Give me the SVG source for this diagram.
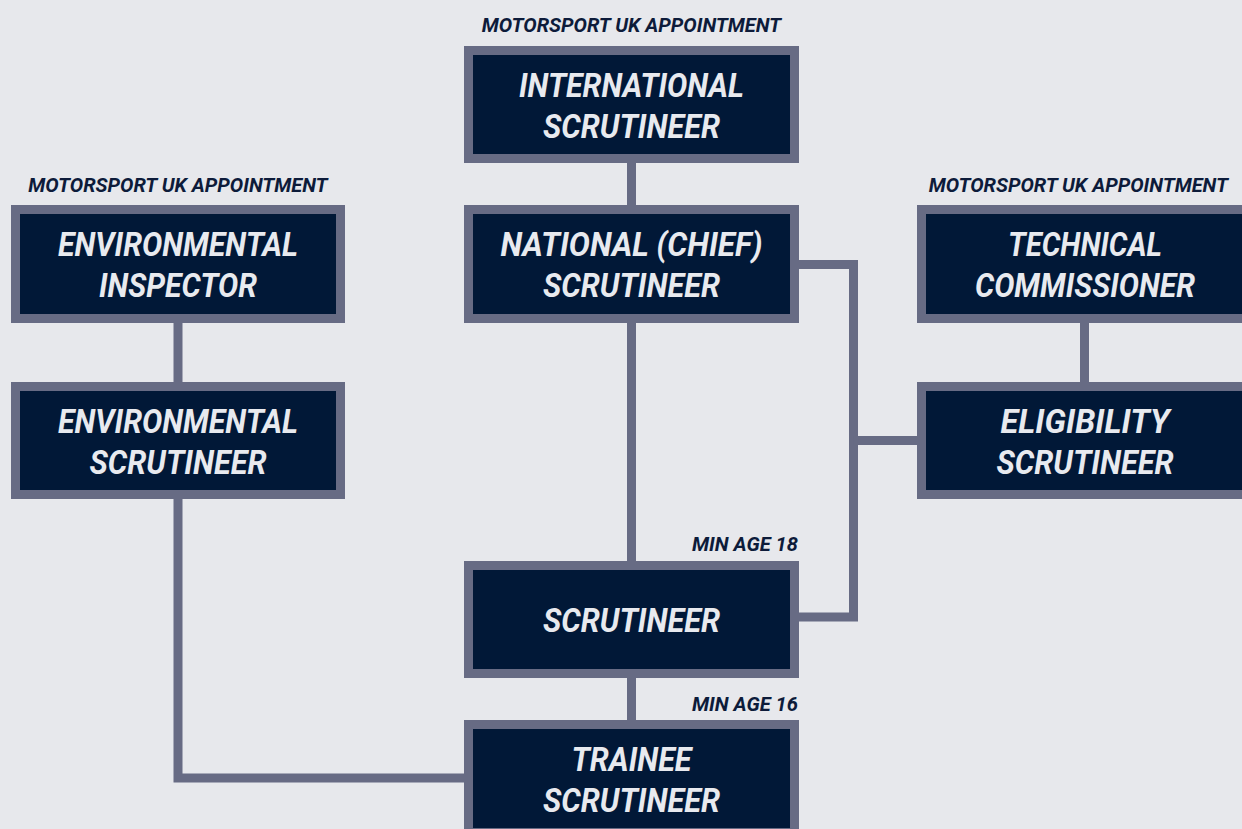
<svg xmlns="http://www.w3.org/2000/svg" width="1242" height="829" viewBox="0 0 1242 829">
<style>
.box{fill:#011837;stroke:#676b84;stroke-width:9}
.t{font-family:Roboto,"Liberation Sans",sans-serif;font-weight:bold;font-style:italic;font-size:33px;fill:#e8eaef;text-anchor:middle}
.lbl{font-family:Roboto,"Liberation Sans",sans-serif;font-weight:bold;font-style:italic;font-size:20px;fill:#0d1b3a}
.c{fill:none;stroke:#676b84;stroke-width:9;stroke-linejoin:miter}
</style>
<rect width="1242" height="829" fill="#e7e8ec"/>
<g id="connectors">
<path class="c" d="M631.5 163V205"/>
<path class="c" d="M631.5 323V561"/>
<path class="c" d="M631.5 678V720"/>
<path class="c" d="M178 323V382"/>
<path class="c" d="M178 499V778H464"/>
<path class="c" d="M799 264.5H853.5V617H799"/>
<path class="c" d="M853.5 440.5H917"/>
<path class="c" d="M1084.5 323V382"/>
</g>
<g id="international">
<text class="lbl" x="631.5" y="32" text-anchor="middle">MOTORSPORT UK APPOINTMENT</text>
<rect class="box" x="468.5" y="50.5" width="326" height="108"/>
<text class="t" x="631.5" y="97" textLength="225" lengthAdjust="spacingAndGlyphs">INTERNATIONAL</text>
<text class="t" x="631.5" y="138" textLength="177" lengthAdjust="spacingAndGlyphs">SCRUTINEER</text>
</g>
<g id="national">
<rect class="box" x="468.5" y="209.5" width="326" height="109"/>
<text class="t" x="631.5" y="256" textLength="262" lengthAdjust="spacingAndGlyphs">NATIONAL (CHIEF)</text>
<text class="t" x="631.5" y="297" textLength="177" lengthAdjust="spacingAndGlyphs">SCRUTINEER</text>
</g>
<g id="env-inspector">
<text class="lbl" x="178" y="192" text-anchor="middle">MOTORSPORT UK APPOINTMENT</text>
<rect class="box" x="15.5" y="209.5" width="325" height="109"/>
<text class="t" x="178" y="256" textLength="240" lengthAdjust="spacingAndGlyphs">ENVIRONMENTAL</text>
<text class="t" x="178" y="297" textLength="158" lengthAdjust="spacingAndGlyphs">INSPECTOR</text>
</g>
<g id="technical-commissioner">
<text class="lbl" x="1228" y="192" text-anchor="end">MOTORSPORT UK APPOINTMENT</text>
<rect class="box" x="921.5" y="209.5" width="326" height="109"/>
<text class="t" x="1085" y="256" textLength="154" lengthAdjust="spacingAndGlyphs">TECHNICAL</text>
<text class="t" x="1085" y="297" textLength="220" lengthAdjust="spacingAndGlyphs">COMMISSIONER</text>
</g>
<g id="env-scrutineer">
<rect class="box" x="15.5" y="386.5" width="325" height="108"/>
<text class="t" x="178" y="433" textLength="240" lengthAdjust="spacingAndGlyphs">ENVIRONMENTAL</text>
<text class="t" x="178" y="474" textLength="177" lengthAdjust="spacingAndGlyphs">SCRUTINEER</text>
</g>
<g id="eligibility-scrutineer">
<rect class="box" x="921.5" y="386.5" width="326" height="108"/>
<text class="t" x="1085" y="433" textLength="169" lengthAdjust="spacingAndGlyphs">ELIGIBILITY</text>
<text class="t" x="1085" y="474" textLength="177" lengthAdjust="spacingAndGlyphs">SCRUTINEER</text>
</g>
<g id="scrutineer">
<text class="lbl" x="798" y="551" text-anchor="end" textLength="106" lengthAdjust="spacingAndGlyphs">MIN AGE 18</text>
<rect class="box" x="468.5" y="565.5" width="326" height="108"/>
<text class="t" x="631.5" y="632" textLength="177" lengthAdjust="spacingAndGlyphs">SCRUTINEER</text>
</g>
<g id="trainee-scrutineer">
<text class="lbl" x="798" y="711" text-anchor="end" textLength="106" lengthAdjust="spacingAndGlyphs">MIN AGE 16</text>
<rect class="box" x="468.5" y="724.5" width="326" height="108"/>
<text class="t" x="631.5" y="771" textLength="120" lengthAdjust="spacingAndGlyphs">TRAINEE</text>
<text class="t" x="631.5" y="812" textLength="177" lengthAdjust="spacingAndGlyphs">SCRUTINEER</text>
</g>
</svg>
